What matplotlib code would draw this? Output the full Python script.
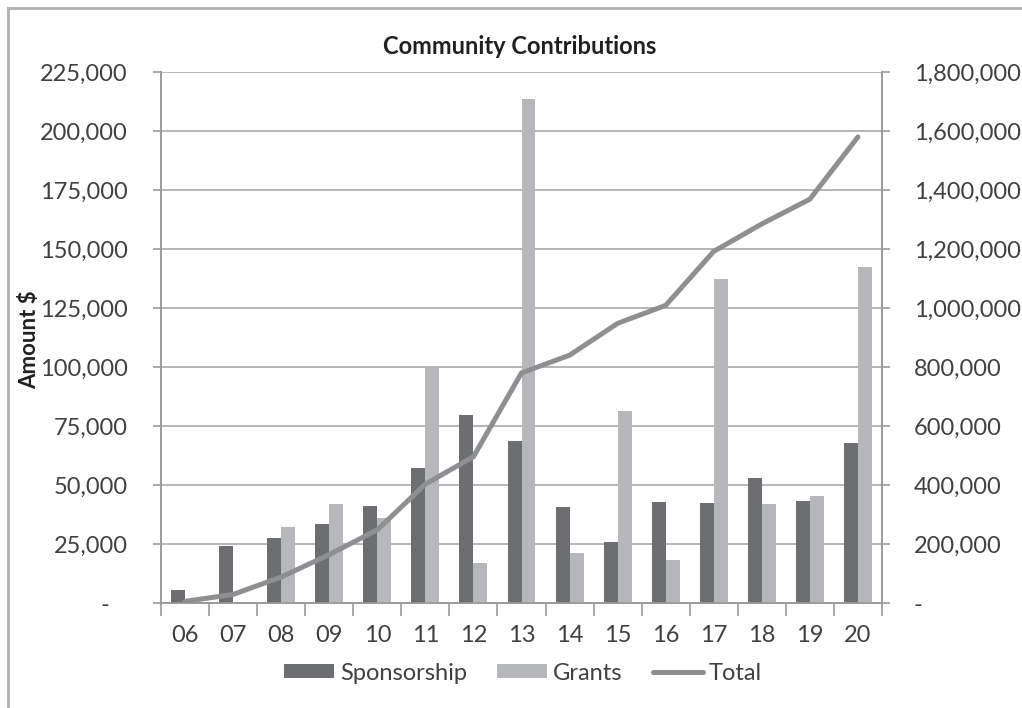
import matplotlib
matplotlib.use("Agg")
import matplotlib.pyplot as plt
from matplotlib.lines import Line2D
from matplotlib.ticker import FuncFormatter, MultipleLocator
import numpy as np

plt.rcParams['font.family'] = ['Lato', 'DejaVu Sans']

years = ['06', '07', '08', '09', '10', '11', '12', '13', '14', '15', '16', '17', '18', '19', '20']
sponsorship = [5600, 24300, 27500, 33500, 41200, 57200, 79500, 68600, 40500, 25700, 42900, 42400, 53000, 43300, 67800]
grants = [0, 0, 32000, 42000, 36000, 100000, 16900, 213700, 21200, 81200, 18300, 137300, 41900, 45200, 142200]
total = [5600, 29000, 88000, 164000, 248000, 403000, 496000, 780000, 840000, 948000, 1009000, 1192000, 1285000, 1369000, 1580000]

DARK = '#6d6e71'
LIGHT = '#b6b7ba'
LINEC = '#8e8f91'
GRID = '#a9a9a9'
SPINE = '#9a9a9a'
TXT = '#404040'

fig = plt.figure(figsize=(10.22, 7.08), dpi=100)
ax = fig.add_axes([161/1022, 1-603/708, (882-161)/1022, (603-72)/708])
ax2 = ax.twinx()

x = np.arange(len(years))
w = 0.29
b1 = ax.bar(x - w/2, sponsorship, w, color=DARK, label='Sponsorship', zorder=3)
b2 = ax.bar(x + w/2, grants, w, color=LIGHT, label='Grants', zorder=3)
l1, = ax2.plot(x, total, color=LINEC, lw=3.6, solid_capstyle='round', label='Total', zorder=4)

ax.set_xlim(-0.5, len(years) - 0.5)
ax.set_ylim(0, 225000)
ax2.set_ylim(0, 1800000)
ax.yaxis.set_major_locator(MultipleLocator(25000))
ax2.yaxis.set_major_locator(MultipleLocator(200000))

ax.set_xticks(x)
ax.set_xticklabels(years)
ax.set_xticks(np.arange(-0.5, len(years), 1), minor=True)
ax.tick_params(axis='x', which='major', length=0, pad=16, labelsize=17, labelcolor=TXT)
ax.tick_params(axis='x', which='minor', length=9, width=1.2, color=SPINE, direction='out')

def lfmt(v, p):
    return '-   ' if v == 0 else f'{int(v):,}'
def rfmt(v, p):
    return '-' if v == 0 else f'{int(v):,}'
ax.yaxis.set_major_formatter(FuncFormatter(lfmt))
ax2.yaxis.set_major_formatter(FuncFormatter(rfmt))
ax.tick_params(axis='y', length=6, width=1.2, color=SPINE, pad=18, labelsize=17, labelcolor=TXT)
ax2.tick_params(axis='y', length=6, width=1.2, color=SPINE, pad=17, labelsize=17, labelcolor=TXT)

ax.grid(axis='y', color=GRID, lw=1.2, zorder=0)
ax.set_axisbelow(True)
for a in (ax, ax2):
    a.spines['top'].set_visible(False)
    for s in ('left', 'right', 'bottom'):
        a.spines[s].set_color(SPINE)
        a.spines[s].set_linewidth(1.2)

fig.text(30/1022, 1-340/708, 'Amount $', rotation=90, ha='center', va='center',
         fontsize=16, fontweight='bold', color='#202020')

fig.text(520/1022, 1-47/708, 'Community Contributions', ha='center', va='center',
         fontsize=17, fontweight='bold', color='#202020')

fig.legend(handles=[b1, b2, l1], labels=['Sponsorship', 'Grants', 'Total'],
           loc='center', bbox_to_anchor=(523/1022, 1-673/708), ncol=3, frameon=False,
           fontsize=17, handlelength=2.1, handleheight=0.55, handletextpad=0.25,
           columnspacing=1.3, labelcolor=TXT)

fig.add_artist(Line2D([8/1022, 8/1022], [0, 1-8/708], color='#b0b0b0', lw=2.0, transform=fig.transFigure))
fig.add_artist(Line2D([8/1022, 1], [1-8/708, 1-8/708], color='#b0b0b0', lw=2.0, transform=fig.transFigure))

fig.savefig('out.png', dpi=100, facecolor='white')
